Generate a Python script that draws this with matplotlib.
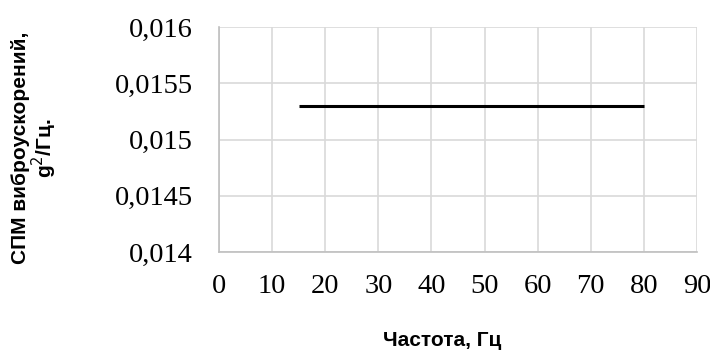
import matplotlib
matplotlib.use("Agg")
import matplotlib.pyplot as plt

freq = [15, 80]
psd = [0.0153, 0.0153]
x_ticks = [0, 10, 20, 30, 40, 50, 60, 70, 80, 90]
y_ticks = [0.014, 0.0145, 0.015, 0.0155, 0.016]
y_tick_labels = ["0,014", "0,0145", "0,015", "0,0155", "0,016"]

fig = plt.figure(figsize=(7.1, 3.52), dpi=100)
ax = fig.add_axes([219/710, 1-252/352, (697-219)/710, (252-27)/352])

ax.plot(freq, psd, color="black", linewidth=2.2, solid_capstyle="butt")
ax.set_xlim(0, 90)
ax.set_ylim(0.014, 0.016)
ax.set_xticks(x_ticks)
ax.set_yticks(y_ticks)
ax.set_yticklabels(y_tick_labels)
ax.grid(True, color="#d9d9d9", linewidth=1.2)
ax.set_axisbelow(True)
for s in ["top", "right"]:
    ax.spines[s].set_visible(False)
for s in ["left", "bottom"]:
    ax.spines[s].set_color("#bfbfbf")
    ax.spines[s].set_linewidth(1.2)
ax.tick_params(axis="both", length=0, labelsize=20.5, colors="black")
ax.tick_params(axis="y", pad=19)
ax.tick_params(axis="x", pad=16)
for lbl in ax.get_xticklabels() + ax.get_yticklabels():
    lbl.set_family("Liberation Serif")

fig.text(442/710, 1-341/352, "Частота, Гц", ha="center", va="center",
         fontsize=15, fontweight="bold", family="Liberation Sans")
fig.text(35/710, 1-148/352, "СПМ виброускорений,\ng$^2$/Гц.", ha="center", va="center",
         rotation=90, fontsize=15, fontweight="bold", family="Liberation Sans",
         linespacing=0.95)

fig.savefig("out.png", dpi=100)
